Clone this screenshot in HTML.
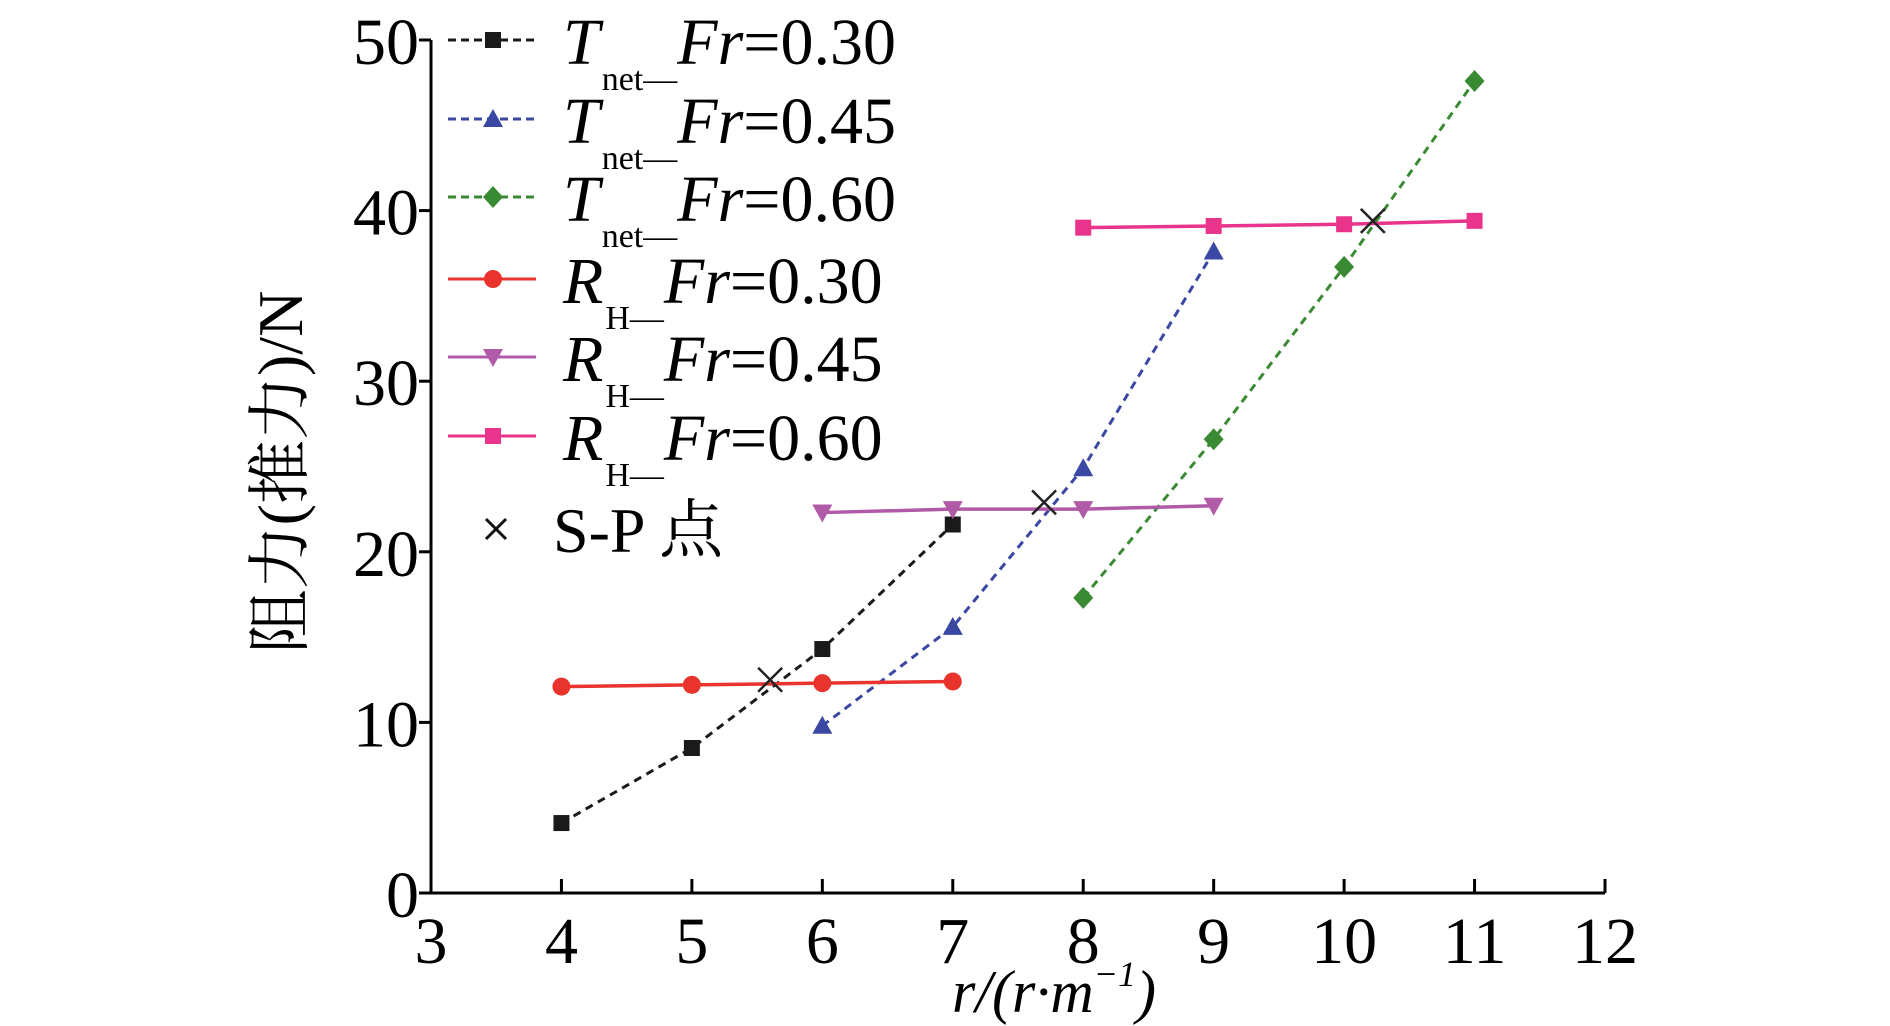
<!DOCTYPE html>
<html><head><meta charset="utf-8"><style>
body{margin:0;background:#fff}
svg{display:block;font-family:"Liberation Serif","Noto Serif CJK SC",serif}
</style></head><body>
<svg id="c" width="1890" height="1026"></svg>
<script>
const xTicks=[3,4,5,6,7,8,9,10,11,12];
const yTicks=[0,10,20,30,40,50];
const tnet30X=[4,5,6,7], tnet30Y=[4.1,8.5,14.3,21.6];
const tnet45X=[6,7,8,9], tnet45Y=[9.8,15.6,24.9,37.6];
const tnet60X=[8,9,10,11], tnet60Y=[17.3,26.6,36.7,47.6];
const rh30X=[4,5,6,7], rh30Y=[12.1,12.2,12.3,12.4];
const rh45X=[6,7,8,9], rh45Y=[22.3,22.5,22.5,22.7];
const rh60X=[8,9,10,11], rh60Y=[39.0,39.1,39.2,39.4];
const spX=[5.6,7.7,10.22], spY=[12.5,22.9,39.4];

const NS='http://www.w3.org/2000/svg';
const svg=document.getElementById('c');
const X0=431,X1=1605,Y0=893,Y1=40;
const sx=v=>X0+(v-3)/9*(X1-X0);
const sy=v=>Y0-v/50*(Y0-Y1);
function el(t,a,p){const e=document.createElementNS(NS,t);for(const k in a)e.setAttribute(k,a[k]);(p||svg).appendChild(e);return e;}

const ax=el('path',{d:`M${X0} ${Y1}V${Y0}H${X1}`,fill:'none',stroke:'#000','stroke-width':3});


xTicks.forEach(v=>{
 const t=el('line',{x1:sx(v),x2:sx(v),y1:Y0,y2:Y0-14,stroke:'#000','stroke-width':3});
 
 
 const l=el('text',{x:sx(v),y:Y0+70,'font-size':66,'text-anchor':'middle'});l.textContent=v;
 
 
});
yTicks.forEach(v=>{
 const t=el('line',{x1:X0,x2:X0-12,y1:sy(v),y2:sy(v),stroke:'#000','stroke-width':3});
 
 
 const l=el('text',{x:X0-12,y:sy(v)+24,'font-size':66,'text-anchor':'end'});l.textContent=v;
 
 
});
const yt=el('text',{transform:'translate(302,472) rotate(-90)','font-size':64,'text-anchor':'middle'});
yt.textContent='阻力(推力)/N';


const xt=el('text',{x:1054,y:1012,'font-size':60,'text-anchor':'middle','font-style':'italic'});
xt.innerHTML='r/(r·m<tspan font-size="36" dy="-26">−1</tspan><tspan dy="26">)</tspan>';



function marker(type,x,y,c,g){
 let m;
 if(type==='sq')m=el('rect',{x:x-8,y:y-8,width:16,height:16,fill:c},g);
 else if(type==='tri')m=el('path',{d:`M${x} ${y-10}L${x+10} ${y+8}L${x-10} ${y+8}Z`,fill:c},g);
 else if(type==='dia')m=el('path',{d:`M${x} ${y-11}L${x+10} ${y}L${x} ${y+11}L${x-10} ${y}Z`,fill:c},g);
 else if(type==='circ')m=el('circle',{cx:x,cy:y,r:9,fill:c},g);
 else if(type==='tdn')m=el('path',{d:`M${x-10} ${y-8}L${x+10} ${y-8}L${x} ${y+10}Z`,fill:c},g);
 return m;
}
const series=[
 {n:'tnet-fr030',xs:tnet30X,ys:tnet30Y,c:'#1a1a1a',m:'sq',d:true},
 {n:'tnet-fr045',xs:tnet45X,ys:tnet45Y,c:'#3b48a3',m:'tri',d:true},
 {n:'tnet-fr060',xs:tnet60X,ys:tnet60Y,c:'#3a8a34',m:'dia',d:true},
 {n:'rh-fr030',xs:rh30X,ys:rh30Y,c:'#e8342c',m:'circ',d:false},
 {n:'rh-fr045',xs:rh45X,ys:rh45Y,c:'#b05aa8',m:'tdn',d:false},
 {n:'rh-fr060',xs:rh60X,ys:rh60Y,c:'#e8348a',m:'sq',d:false},
];
series.forEach(s=>{
 const g=el('g',{});
 
 
 const pts=s.xs.map((x,i)=>sx(x)+','+sy(s.ys[i])).join(' ');
 const a={points:pts,fill:'none',stroke:s.c,'stroke-width':s.d?3:3.5};
 if(s.d)a['stroke-dasharray']='8,6';
 el('polyline',a,g);
 s.xs.forEach((x,i)=>{
  const m=marker(s.m,sx(x),sy(s.ys[i]),s.c,g);
  
  
 });
});
spX.forEach((x,i)=>{
 const cx=sx(x),cy=sy(spY[i]);
 const p=el('path',{d:`M${cx-12} ${cy-12}L${cx+12} ${cy+12}M${cx+12} ${cy-12}L${cx-12} ${cy+12}`,stroke:'#222','stroke-width':2.5});
 
 
});
// legend
const legY=[40,119,197,279,357,436];
const legLab=[['T','net—','0.30'],['T','net—','0.45'],['T','net—','0.60'],['R','H—','0.30'],['R','H—','0.45'],['R','H—','0.60']];
series.forEach((s,i)=>{
 const g=el('g',{});
 
 
 const y=legY[i];
 const a={x1:448,x2:536,y1:y,y2:y,stroke:s.c,'stroke-width':3};
 if(s.d)a['stroke-dasharray']='8,5';
 el('line',a,g);
 marker(s.m,493,y,s.c,g);
 const t=el('text',{x:563,y:y+24,'font-size':66},g);
 t.innerHTML=`<tspan font-style="italic">${legLab[i][0]}</tspan><tspan font-size="34" dy="26" dx="2">${legLab[i][1]}</tspan><tspan dy="-26" font-style="italic">Fr</tspan>=${legLab[i][2]}`;
});
const sg=el('g',{});


el('path',{d:'M486 519L506 539M506 519L486 539',stroke:'#111','stroke-width':3},sg);
const st=el('text',{x:553,y:552,'font-size':64},sg);st.textContent='S-P 点';
</script>
</body></html>
